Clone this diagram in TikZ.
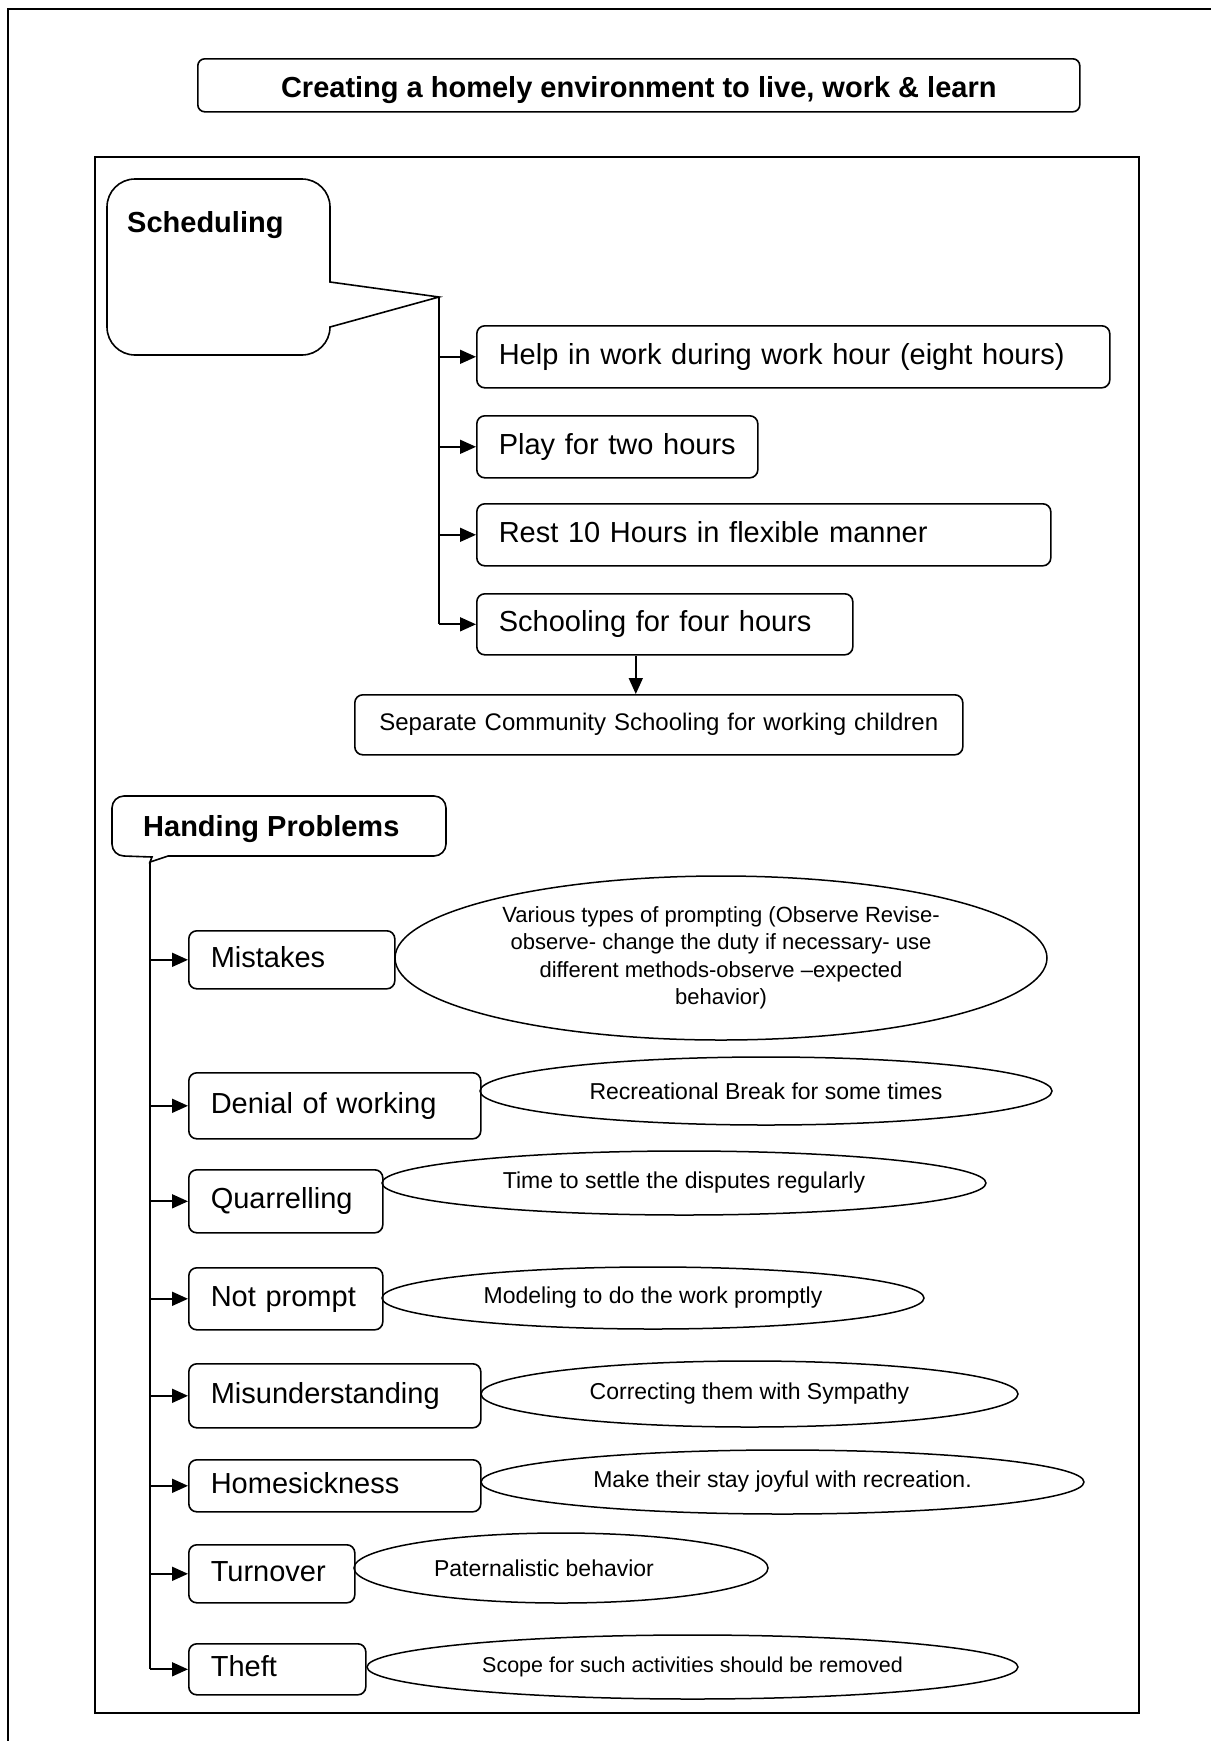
\documentclass[tikz,border=0pt]{standalone}
\usepackage{fontspec}
\setmainfont{Liberation Sans}
\usetikzlibrary{shapes.geometric,arrows.meta}
\begin{document}
\begin{tikzpicture}[x=1pt,y=-1pt,
  box/.style={draw, line width=1.6pt, rounded corners=8pt, inner xsep=22pt, inner ysep=0pt,
    align=left, anchor=north west, font=\fontsize{29}{34}\selectfont, text height=21pt, text depth=6pt},
  ell/.style={draw, ellipse, line width=1.5pt, inner sep=0pt, align=center,
    font=\fontsize{23}{25}\selectfont},
  conn/.style={line width=1.7pt},
  arr/.style={line width=1.7pt, -{Triangle[length=16pt,width=14pt]}},
  frame/.style={line width=2.4pt},
  callout/.style={line width=1.6pt},
  head/.style={font=\bfseries\fontsize{29}{34}\selectfont, inner sep=0pt, anchor=base west}
]
\useasboundingbox (0,0) rectangle (1211,1741);
% outer and inner frames
\draw[frame] (8,1741) -- (8,9) -- (1211,9);
\draw[frame] (95,157) rectangle (1139,1713);

% title
\node[draw, line width=1.6pt, rounded corners=7pt, anchor=north west, minimum width=882pt,
  minimum height=53pt, inner sep=0pt, text height=26pt, text depth=1pt,
  font=\bfseries\fontsize{29}{34}\selectfont] (title) at (197,58)
  {Creating a homely environment to live, work \& learn};

% Scheduling callout
\draw[callout] (439,297) -- (330,282) -- (330,207) arc[start angle=0,end angle=90,radius=28pt]
  -- (135,179) arc[start angle=90,end angle=180,radius=28pt]
  -- (107,327) arc[start angle=180,end angle=270,radius=28pt]
  -- (302,355) arc[start angle=270,end angle=360,radius=28pt] -- cycle;
\node[head] (sched) at (127,232) {Scheduling};
\coordinate (stip) at (439,297);

\node[box, text width=589pt, minimum height=62pt] (b1) at (476,325) {\mbox{Help in work during work hour (eight hours)}};
\node[box, text width=237pt, minimum height=62pt] (b2) at (476,415) {\mbox{Play for two hours}};
\node[box, text width=530pt, minimum height=62pt] (b3) at (476,503) {\mbox{Rest 10 Hours in flexible manner}};
\node[box, text width=332pt, minimum height=61pt] (b4) at (476,593) {\mbox{Schooling for four hours}};
\node[box, align=center, text width=564pt, minimum height=60pt, font=\fontsize{24}{28}\selectfont,
  text height=17pt, text depth=5pt] (sep) at (354,694) {\mbox{Separate Community Schooling for working children}};

\draw[conn] (stip) -- (b4.west -| stip);
\foreach \b in {b1,b2,b3,b4} \draw[arr] (\b.west -| stip) -- (\b.west);
\draw[arr] ([xshift=-29pt]b4.south) -- ([xshift=-29pt]b4.south |- sep.north);

% Handing Problems callout
\draw[callout] (150,862) -- (168,856) -- (434,856) arc[start angle=270,end angle=360,radius=12pt]
  -- (446,808) arc[start angle=0,end angle=90,radius=12pt]
  -- (124,796) arc[start angle=90,end angle=180,radius=12pt]
  -- (112,844) arc[start angle=180,end angle=270,radius=12pt]
  -- (152,857) -- cycle;
\node[head] (hp) at (143,836) {Handing Problems};
\coordinate (htip) at (150,862);

\node[box, text width=162pt, minimum height=58pt] (mist) at (188,930) {\mbox{Mistakes}};
\node[box, text width=248pt, minimum height=66pt] (deny) at (188,1072) {\mbox{Denial of working}};
\node[box, text width=150pt, minimum height=63pt] (quar) at (188,1169) {\mbox{Quarrelling}};
\node[box, text width=150pt, minimum height=62pt] (notp) at (188,1267) {\mbox{Not prompt}};
\node[box, text width=248pt, minimum height=64pt] (misu) at (188,1363) {\mbox{Misunderstanding}};
\node[box, text width=248pt, minimum height=52pt] (home) at (188,1459) {\mbox{Homesickness}};
\node[box, text width=122pt, minimum height=58pt] (turn) at (188,1544) {\mbox{Turnover}};
\node[box, text width=133pt, minimum height=51pt] (theft) at (188,1643) {\mbox{Theft}};

\draw[conn] (htip) -- (theft.west -| htip);
\foreach \b in {mist,deny,quar,notp,misu,home,turn,theft} \draw[arr] (\b.west -| htip) -- (\b.west);

% ellipses
\node[ell, minimum width=652pt, minimum height=164pt, font=\fontsize{22}{27.5}\selectfont] (e1) at (721,958)
  {Various types of prompting (Observe Revise-\\observe- change the duty if necessary- use\\different methods-observe --expected\\behavior)};
\node[ell, minimum width=572pt, minimum height=68pt] (e2) at (766,1091) {Recreational Break for some times};
\node[ell, minimum width=604pt, minimum height=64pt] (e3) at (684,1183) {Time to settle the disputes regularly};
\node[ell, minimum width=542pt, minimum height=62pt] (e4) at (653,1298) {Modeling to do the work promptly};
\node[ell, minimum width=537pt, minimum height=66pt] (e5) at (749.5,1394) {Correcting them with Sympathy};
\node[ell, minimum width=603pt, minimum height=64pt] (e6) at (782.5,1482) {Make their stay joyful with recreation.};
\node[ell, minimum width=414pt, minimum height=70pt] (e7) at (561,1568) {Paternalistic behavior\hspace*{34pt}};
\node[ell, minimum width=651pt, minimum height=64pt, font=\fontsize{21.5}{24}\selectfont] (e8) at (692.5,1667) {Scope for such activities should be removed};
\end{tikzpicture}
\end{document}
